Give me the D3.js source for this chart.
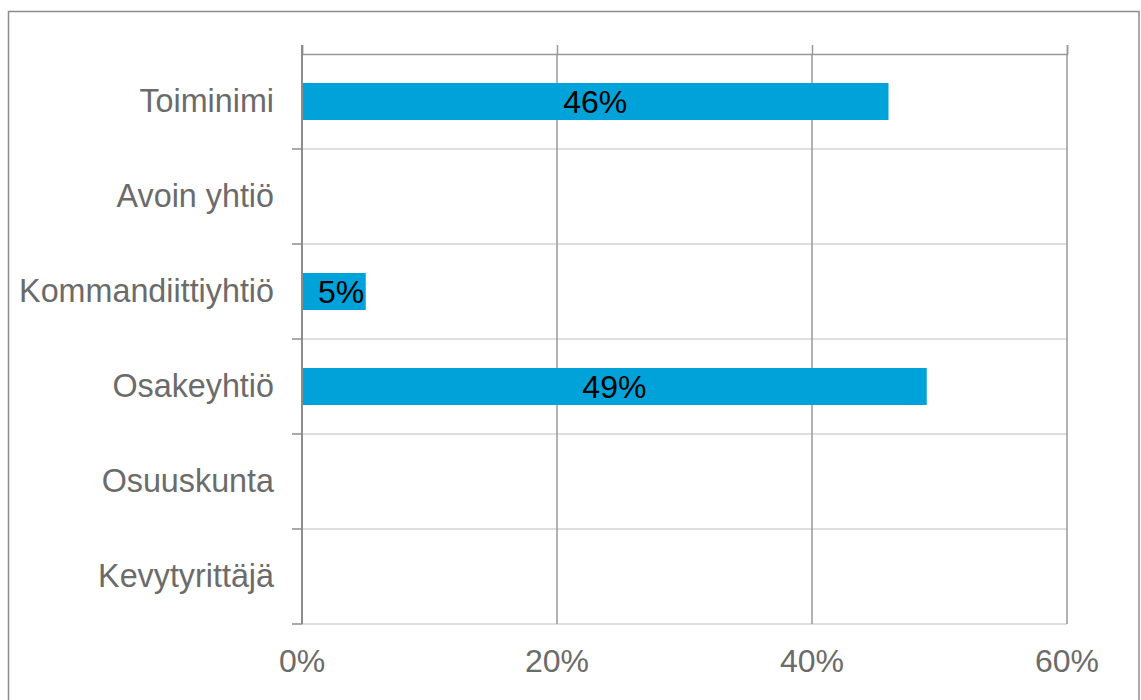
<!DOCTYPE html>
<html>
<head>
<meta charset="utf-8">
<script src="https://cdn.jsdelivr.net/npm/d3@7"></script>
<style>
  html, body { margin: 0; padding: 0; background: #fff; }
  svg { display: block; }
  text { font-family: "Liberation Sans", Arial, sans-serif; }
</style>
</head>
<body>
<script>
const categories = ["Toiminimi", "Avoin yhtiö", "Kommandiittiyhtiö", "Osakeyhtiö", "Osuuskunta", "Kevytyrittäjä"];
const values = [46, null, 5, 49, null, null];
const valueLabels = ["46%", "", "5%", "49%", "", ""];
const xTicks = [0, 20, 40, 60];

const W = 1141, H = 700;
const margin = { left: 302, right: 74, top: 54, bottom: 76 };

const svg = d3.select("body").append("svg").attr("width", W).attr("height", H);

// outer frame
svg.append("rect")
  .attr("x", 8.5).attr("y", 11.5)
  .attr("width", 1130.5).attr("height", 700)
  .attr("fill", "none").attr("stroke", "#8c8c8c").attr("stroke-width", 1.5);

const x = d3.scaleLinear().domain([0, 60]).range([margin.left, W - margin.right]);
const y = d3.scaleBand().domain(categories).range([margin.top, H - margin.bottom]).paddingInner(0).paddingOuter(0);

const g = svg.append("g");

// horizontal light gridlines at band boundaries
const bounds = categories.map(c => y(c)).concat([y(categories[categories.length - 1]) + y.bandwidth()]);
g.selectAll("line.hgrid").data(bounds.slice(1)).join("line")
  .attr("class", "hgrid")
  .attr("x1", x(0)).attr("x2", x(60))
  .attr("y1", d => d).attr("y2", d => d)
  .attr("stroke", "#dedede").attr("stroke-width", 2);

// top x axis with ticks upward and gridlines
const xAxis = d3.axisTop(x).tickValues(xTicks).tickSize(9).tickFormat("");
const xg = g.append("g").attr("transform", `translate(0,${margin.top})`).call(xAxis);
xg.select(".domain").attr("stroke", "#999").attr("stroke-width", 1.5);
xg.selectAll(".tick line").attr("stroke", "#999").attr("stroke-width", 1.5);

// vertical gridlines
g.selectAll("line.vgrid").data(xTicks.slice(1)).join("line")
  .attr("class", "vgrid")
  .attr("x1", d => x(d)).attr("x2", d => x(d))
  .attr("y1", margin.top).attr("y2", H - margin.bottom)
  .attr("stroke", "#999").attr("stroke-width", 1.5);

// bottom tick labels
g.selectAll("text.xlab").data(xTicks).join("text")
  .attr("class", "xlab")
  .attr("x", d => x(d)).attr("y", 672)
  .attr("text-anchor", "middle")
  .attr("font-size", 32).attr("fill", "#6b6b6b")
  .text(d => d + "%");

// y axis
const yAxis = d3.axisLeft(y).tickSize(0).tickFormat("");
const yg = g.append("g").attr("transform", `translate(${margin.left},0)`).call(yAxis);
yg.select(".domain").remove();
g.append("line")
  .attr("x1", x(0)).attr("x2", x(0))
  .attr("y1", margin.top - 9).attr("y2", H - margin.bottom)
  .attr("stroke", "#8c8c8c").attr("stroke-width", 2);
g.selectAll("line.ytick").data(bounds.slice(1)).join("line")
  .attr("class", "ytick")
  .attr("x1", x(0) - 10).attr("x2", x(0))
  .attr("y1", d => d).attr("y2", d => d)
  .attr("stroke", "#8c8c8c").attr("stroke-width", 1.5);

// category labels
g.selectAll("text.ylab").data(categories).join("text")
  .attr("class", "ylab")
  .attr("x", 274)
  .attr("y", d => y(d) + y.bandwidth() / 2 + 10.5)
  .attr("text-anchor", "end")
  .attr("font-size", 32.3).attr("fill", "#6b6b6b")
  .text(d => d);

// bars
const barH = 37;
const data = categories.map((c, i) => ({ c, v: values[i], label: valueLabels[i] })).filter(d => d.v != null);
g.selectAll("rect.bar").data(data).join("rect")
  .attr("class", "bar")
  .attr("x", x(0) + 1)
  .attr("y", d => y(d.c) + y.bandwidth() / 2 - barH / 2)
  .attr("width", d => x(d.v) - x(0) - 1)
  .attr("height", barH)
  .attr("fill", "#00a3d9");

// value labels
g.selectAll("text.vlab").data(data).join("text")
  .attr("class", "vlab")
  .attr("y", d => y(d.c) + y.bandwidth() / 2 + 11)
  .attr("text-anchor", "middle")
  .attr("font-size", 32).attr("fill", "#000")
  .text(d => d.label)
  .attr("x", function(d) {
    const w = this.getComputedTextLength();
    return Math.max((x(0) + x(d.v)) / 2, x(0) + 16 + w / 2);
  });
</script>
</body>
</html>
